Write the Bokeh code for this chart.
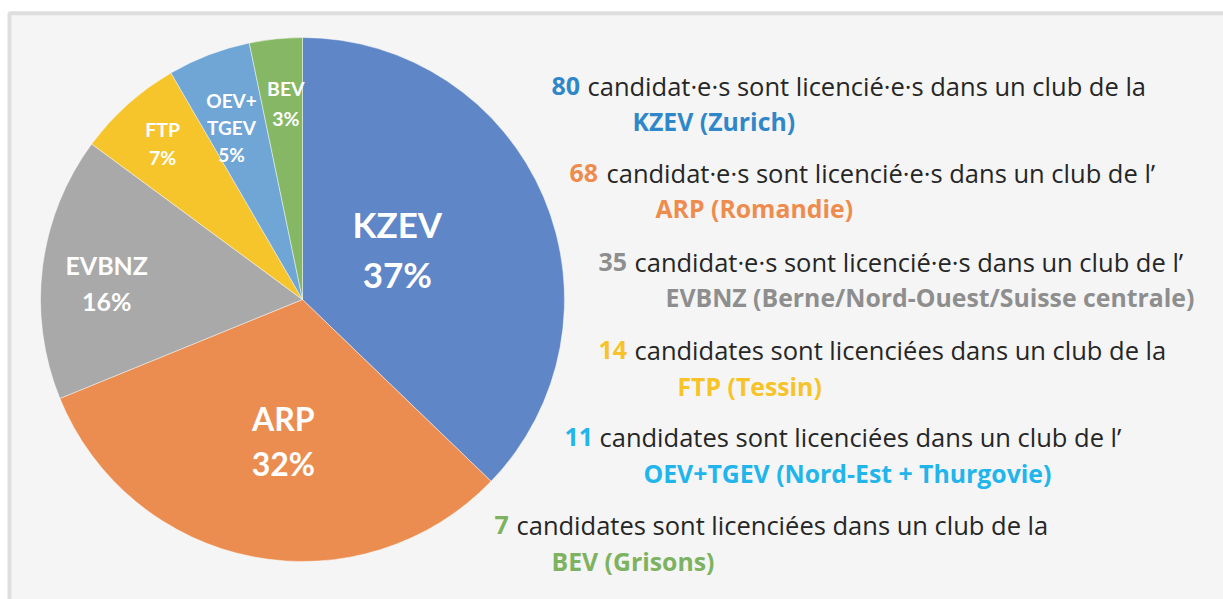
import math
from bokeh.plotting import figure
from bokeh.models import Range1d, ColumnDataSource
from bokeh.core.properties import value
from bokeh.embed import file_html
from bokeh.resources import INLINE

# ---------------- data ----------------
regions = ["KZEV", "ARP", "EVBNZ", "FTP", "OEV+TGEV", "BEV"]
counts = [80, 68, 35, 14, 11, 7]
pie_names = ["KZEV", "ARP", "EVBNZ", "FTP", "OEV+\nTGEV", "BEV"]
desc_texts = [
    "candidat·e·s sont licencié·e·s dans un club de la",
    "candidat·e·s sont licencié·e·s dans un club de l’",
    "candidat·e·s sont licencié·e·s dans un club de l’",
    "candidates sont licenciées dans un club de la",
    "candidates sont licenciées dans un club de l’",
    "candidates sont licenciées dans un club de la",
]
region_full = [
    "KZEV (Zurich)",
    "ARP (Romandie)",
    "EVBNZ (Berne/Nord-Ouest/Suisse centrale)",
    "FTP (Tessin)",
    "OEV+TGEV (Nord-Est + Thurgovie)",
    "BEV (Grisons)",
]

# ---------------- styles ----------------
slice_colors = ["#5F86C6", "#EB8D51", "#A9A9A9", "#F6C42B", "#6FA6D6", "#85B765"]
text_colors = ["#2F87C9", "#EE8C4D", "#8E8E8E", "#F7C329", "#22B5EB", "#7DB360"]
label_sizes = [35, 32, 25, 19.5, 19, 19.5]
label_line_h = [1.19, 1.15, 1.22, 1.24, 1.16, 1.28]
label_rfrac = [0.41, 0.546, 0.75, 0.80, 0.71, 0.75]
label_dang = [-5, -3.2, -2.3, 0, -1.5, 1]  # degrees

W, H = 1223, 599
PIE_FONT = "Lato"
TXT_FONT = "Open Sans"


def X(px):  # page px -> data
    return px


def Y(py):
    return H - py


p = figure(width=W, height=H, x_range=Range1d(0, W), y_range=Range1d(0, H),
           output_backend="svg", toolbar_location=None,
           x_axis_type=None, y_axis_type=None, min_border=0)
p.xgrid.visible = False
p.ygrid.visible = False
p.outline_line_color = None
p.background_fill_color = "white"
p.border_fill_color = "white"

# chart area frame
p.quad(left=[X(9)], right=[W + 30], top=[Y(12.8)], bottom=[-30],
       fill_color="#F5F5F5", line_color="#DEDEDE", line_width=4)

# pie
cx, cy, R = X(302), Y(299), 262
total = sum(counts)
fr = [c / total for c in counts]
cum = [0]
for f in fr:
    cum.append(cum[-1] + f)
starts = [math.pi / 2 - 2 * math.pi * cum[i + 1] for i in range(len(counts))]
ends = [math.pi / 2 - 2 * math.pi * cum[i] for i in range(len(counts))]
src = ColumnDataSource(dict(x=[cx] * len(counts), y=[cy] * len(counts),
                            s=starts, e=ends, c=slice_colors, region=regions,
                            count=counts))
p.wedge(x="x", y="y", radius=R, start_angle="s", end_angle="e",
        fill_color="c", line_color="white", line_alpha=0.45, line_width=1,
        source=src)

# labels inside pie
for i in range(len(counts)):
    mid = 2 * math.pi * (cum[i] + cum[i + 1]) / 2 + math.radians(label_dang[i])
    lx = cx + label_rfrac[i] * R * math.sin(mid)
    ly = cy + label_rfrac[i] * R * math.cos(mid)
    pct = round(100 * counts[i] / total)
    p.text(x=[lx], y=[ly], text=[f"{pie_names[i]}\n{pct}%"],
           text_font=value(PIE_FONT), text_font_style="bold",
           text_font_size=f"{label_sizes[i]}px", text_color="white",
           text_align="center", text_baseline="middle",
           text_line_height=label_line_h[i])

# right-hand annotations (layout in page px)
num_x = [551, 569, 598, 598, 564, 494]
desc_x = [587, 606, 634, 634, 599, 516]
line1_y = [85, 172, 261, 349, 436, 524]
name_x = [632, 655, 665, 677, 643, 551]
line2_y = [120, 207, 296, 385, 472, 560]

p.text(x=[X(v) for v in num_x], y=[Y(v) for v in line1_y],
       text=[str(c) for c in counts], text_color=text_colors,
       text_font=value(TXT_FONT), text_font_style="bold", text_font_size="25px",
       text_baseline="alphabetic", text_align="left")
p.text(x=[X(v) for v in desc_x], y=[Y(v) for v in line1_y],
       text=desc_texts, text_color="#262626",
       text_font=value(TXT_FONT), text_font_size="25.5px",
       text_baseline="alphabetic", text_align="left")
p.text(x=[X(v) for v in name_x], y=[Y(v) for v in line2_y],
       text=region_full, text_color=text_colors,
       text_font=value(TXT_FONT), text_font_style="bold", text_font_size="24.8px",
       text_baseline="alphabetic", text_align="left")

open("out.html", "w").write(file_html(p, INLINE))
